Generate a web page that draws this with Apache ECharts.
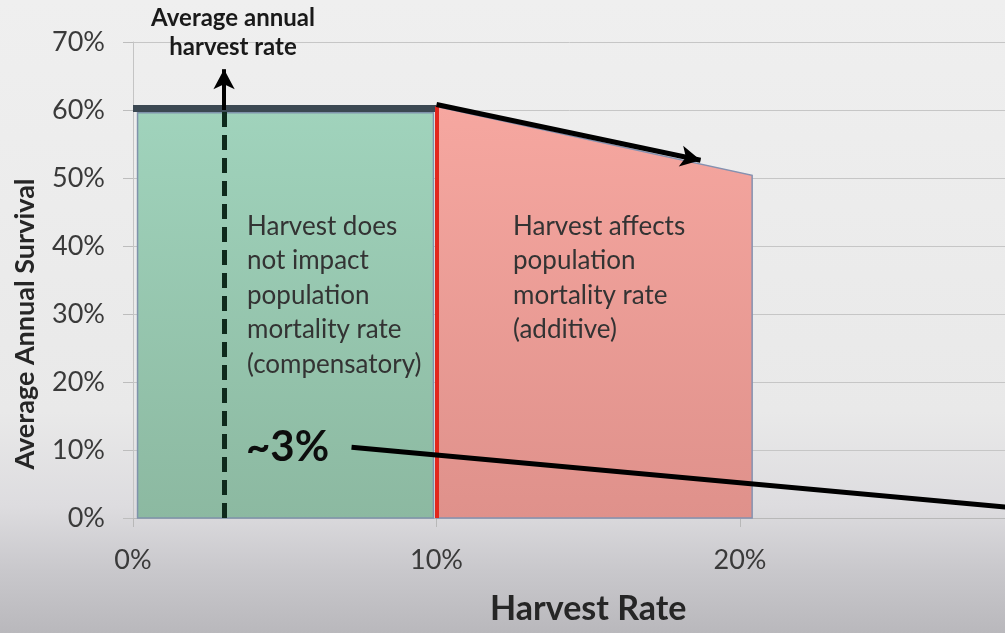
<!DOCTYPE html>
<html><head><meta charset="utf-8">
<script src="https://cdn.jsdelivr.net/npm/echarts@6/dist/echarts.min.js"></script>
<style>
html,body{margin:0;padding:0;width:1005px;height:633px;overflow:hidden;
background:linear-gradient(180deg,#efefef 0%,#e9e9e9 65%,#dddcdf 80%,#c9c8cc 90%,#b9b8bc 100%);}
#c{width:1005px;height:633px;}
</style></head><body><div id="c"></div>
<script>
// ---- data (percent units) ----
const xTicks = [0, 10, 20, 30];
const yTicks = [0, 10, 20, 30, 40, 50, 60, 70];
const compensatoryX = [0.15, 9.9];
const compensatoryY = [59.6, 59.6];
const additiveX = [10, 20.4];
const additiveY = [60.5, 50.4];
const plateauX = [0, 10];
const plateauY = [60.2, 60.2];
const thresholdX = [10, 10];
const thresholdY = [0, 60.5];
const avgHarvestX = [3, 3];
const avgHarvestY = [0, 60];
const avgArrowY = [60, 66];
const declineArrowX = [10, 18.7];
const declineArrowY = [60.8, 52.6];
const pointerX = [7.2, 30];
const pointerY = [10.4, 1.1];
const labels = {
  title: 'Average annual\nharvest rate',
  approx: '~3%',
  comp: 'Harvest does\nnot impact\npopulation\nmortality rate\n(compensatory)',
  add: 'Harvest affects\npopulation\nmortality rate\n(additive)',
  yName: 'Average Annual Survival',
  xName: 'Harvest Rate'
};

const FONT = 'Lato, "Noto Sans", sans-serif';
const chart = echarts.init(document.getElementById('c'), null, {renderer:'canvas'});

function zone(xs, ys, fillTop, fillBot, stroke){
  return {
    type:'custom', coordinateSystem:'cartesian2d', silent:true, z:2,
    data:[[xs[0], ys[0], xs[1], ys[1]]],
    renderItem:function(params, api){
      const p1 = api.coord([api.value(0), api.value(1)]);
      const p2 = api.coord([api.value(2), api.value(3)]);
      const b1 = api.coord([api.value(0), 0]);
      const b2 = api.coord([api.value(2), 0]);
      return {type:'polygon', shape:{points:[b1,p1,p2,b2]},
        style:{fill:new echarts.graphic.LinearGradient(0,0,0,1,[{offset:0,color:fillTop},{offset:1,color:fillBot}]),
               stroke:stroke, lineWidth:1.5}};
    }
  };
}
function seg(xs, ys, color, width, type, arrow, z){
  return {
    type:'line', silent:true, z:z||5, symbol:'none', data:[],
    markLine:{silent:true, animation:false,
      symbol: arrow ? ['none','arrow'] : ['none','none'],
      symbolSize: arrow ? [16,20] : 0,
      label:{show:false},
      lineStyle:{color:color, width:width, type:type||'solid', opacity:1},
      data:[[{coord:[xs[0], ys[0]]},{coord:[xs[1], ys[1]]}]]
    }
  };
}

const option = {
  animation:false,
  backgroundColor:'transparent',
  grid:{left:133, width:910.5, top:42, bottom:115, containLabel:false, outerBoundsMode:'none'},
  xAxis:{type:'value', min:xTicks[0], max:xTicks[xTicks.length-1], interval:10,
    name:labels.xName, nameLocation:'middle', nameGap:74,
    nameTextStyle:{fontFamily:FONT, fontSize:34, fontWeight:'bold', color:'#262626'},
    axisLine:{show:true, lineStyle:{color:'#b8b8b8', width:1}},
    axisTick:{show:true, length:9, lineStyle:{color:'#b8b8b8'}},
    axisLabel:{formatter:'{value}%', fontFamily:FONT, fontSize:27, color:'#3a3a3a', margin:29},
    splitLine:{show:false}},
  yAxis:{type:'value', min:yTicks[0], max:yTicks[yTicks.length-1], interval:10,
    axisLine:{show:true, lineStyle:{color:'#c4c4c4', width:1}},
    axisTick:{show:true, length:10, lineStyle:{color:'#bdbdbd'}},
    axisLabel:{formatter:'{value}%', fontFamily:FONT, fontSize:27, color:'#3a3a3a', margin:28},
    splitLine:{show:true, lineStyle:{color:'#c6c6c6', width:1}}},
  graphic:[
    {type:'text', x:233, y:4, z:20, style:{text:labels.title, font:'bold 24px '+FONT, fill:'#1a1a1a', textAlign:'center', lineHeight:29}},
    {type:'text', x:246, y:426, z:20, style:{text:labels.approx, font:'bold 42px '+FONT, fill:'#0d0d0d'}},
    {type:'text', x:247, y:209, z:20, style:{text:labels.comp, font:'26px '+FONT, fill:'#333333', lineHeight:34.5}},
    {type:'text', x:513, y:209, z:20, style:{text:labels.add, font:'26px '+FONT, fill:'#333333', lineHeight:34.5}},
    {type:'text', x:25, y:324, rotation:Math.PI/2, z:20, style:{text:labels.yName, font:'bold 27px '+FONT, fill:'#262626', textAlign:'center', textVerticalAlign:'middle'}}
  ],
  series:[
    zone(compensatoryX, compensatoryY, '#a0d3bc', '#8cb9a1', '#7f93ab'),
    zone(additiveX, additiveY, '#f6a7a0', '#df918b', '#8591b0'),
    seg(plateauX, plateauY, '#3b4852', 7, 'solid', false, 6),
    seg(thresholdX, thresholdY, '#e2271d', 4, 'solid', false, 6),
    seg(avgHarvestX, avgHarvestY, '#0f2a1c', 5, [15,8], false, 7),
    seg(avgHarvestX, avgArrowY, '#000000', 4, 'solid', true, 7),
    seg(declineArrowX, declineArrowY, '#000000', 5, 'solid', true, 7),
    seg(pointerX, pointerY, '#000000', 5, 'solid', false, 7)
  ]
};
chart.setOption(option);
</script></body></html>
